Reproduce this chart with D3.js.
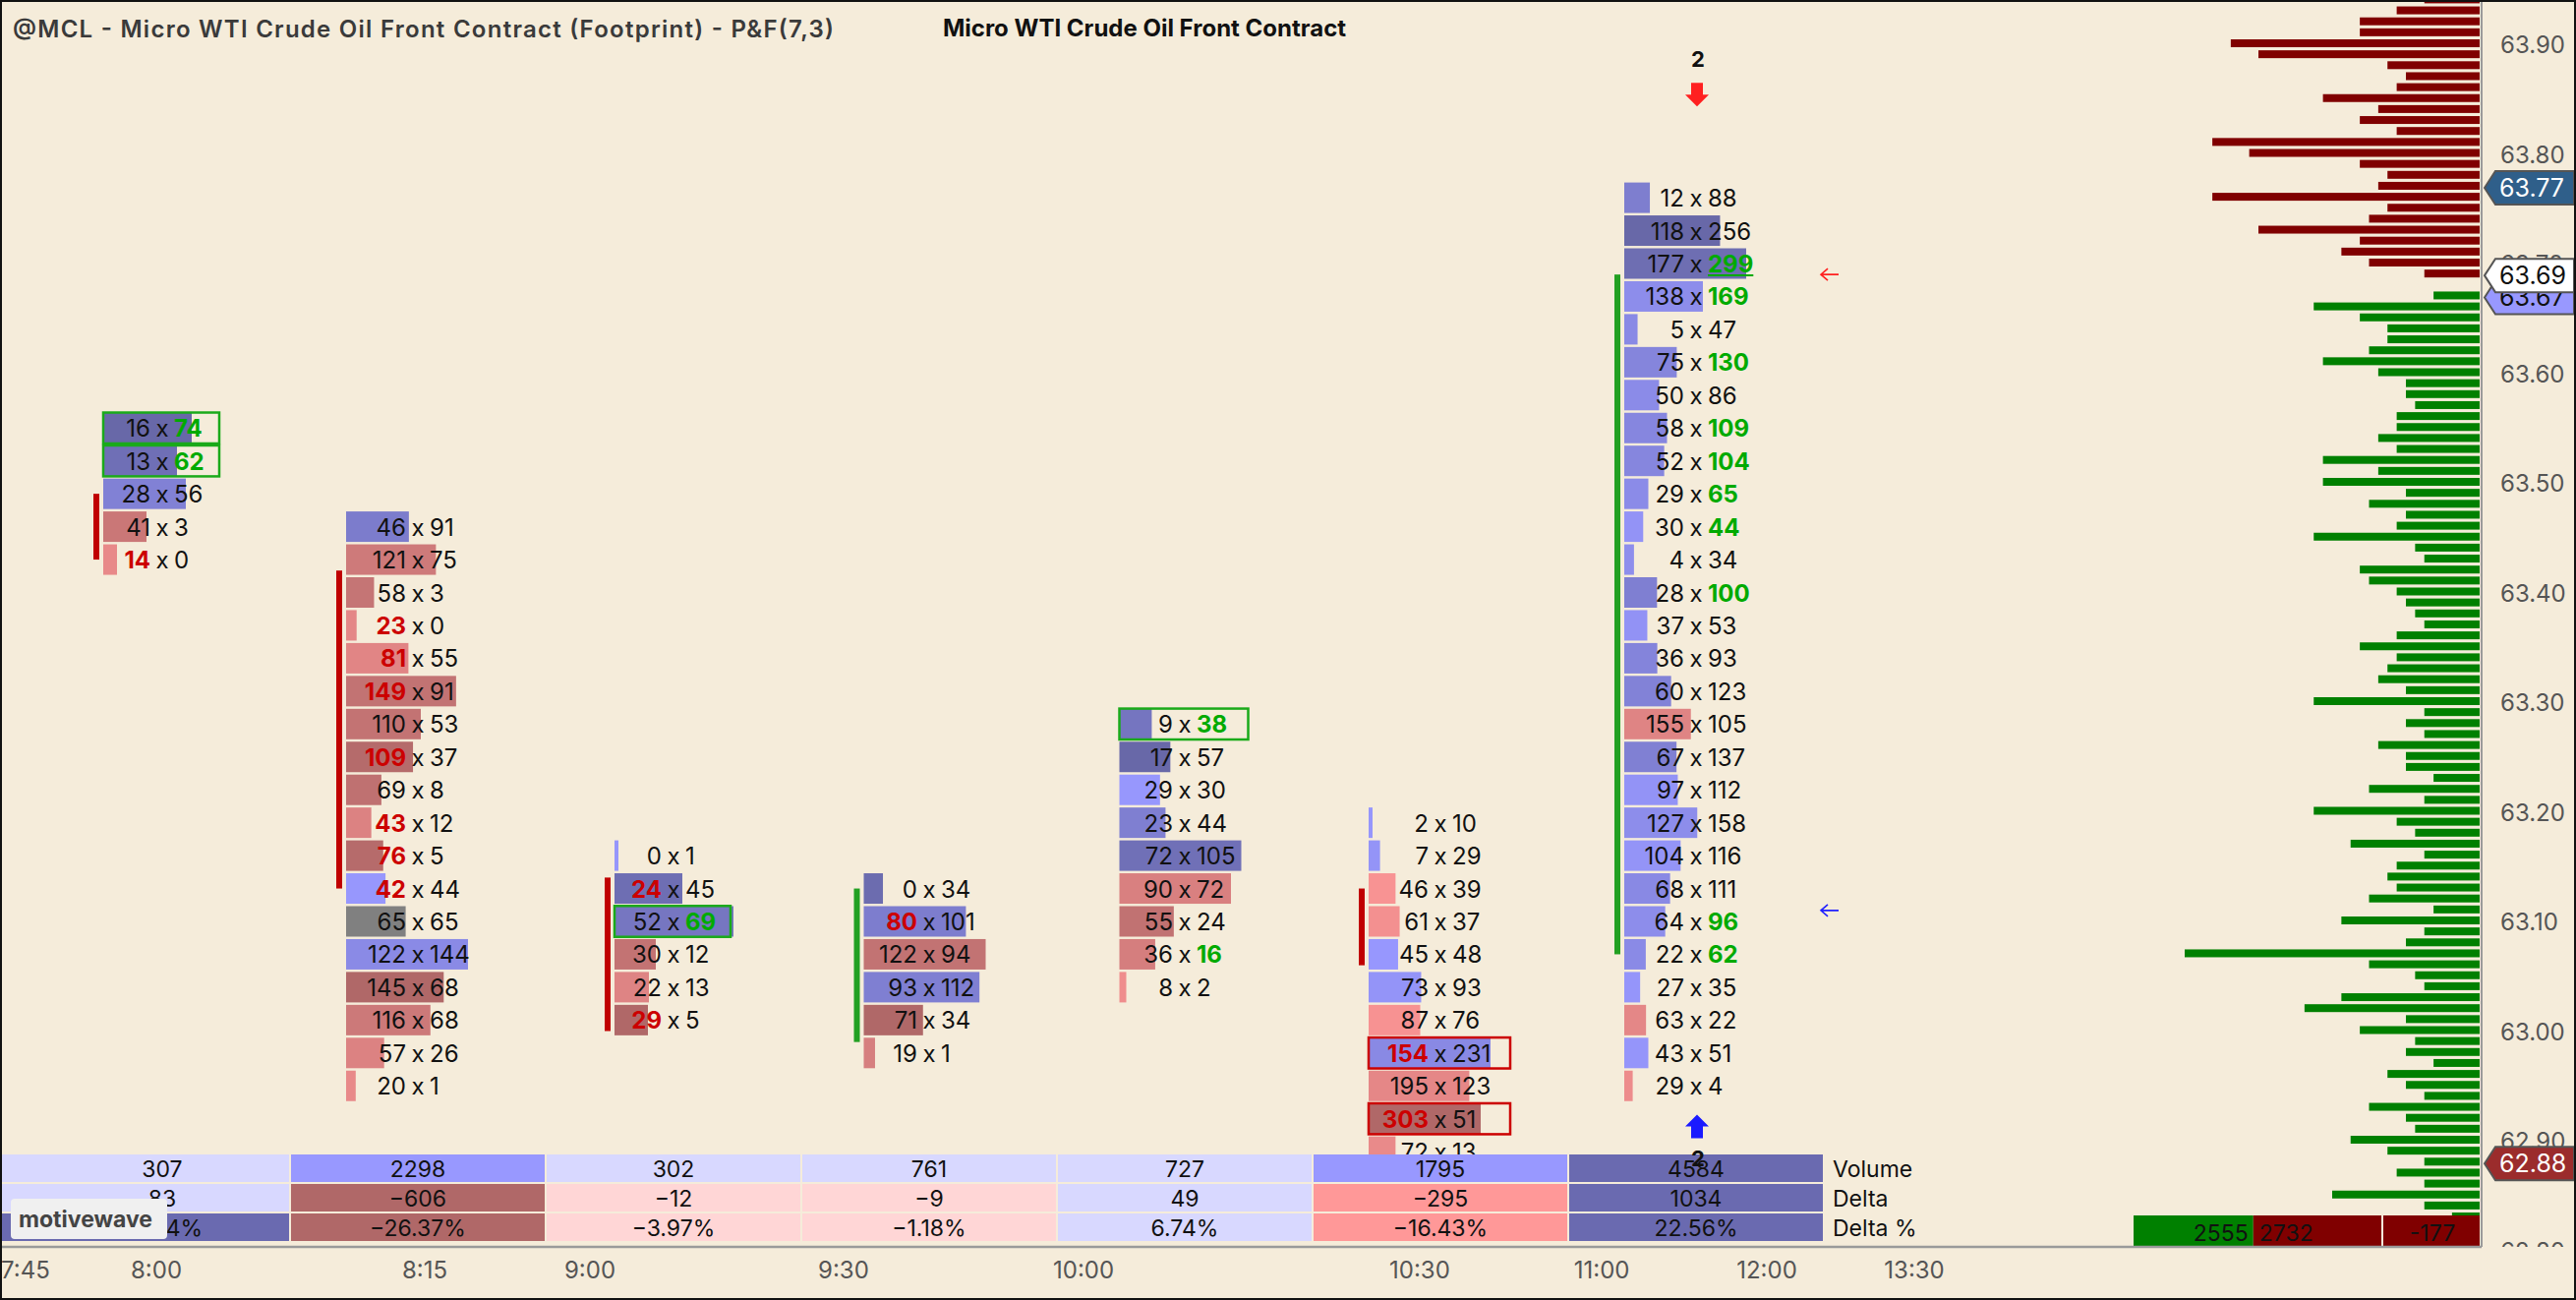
<!DOCTYPE html>
<html lang="en">
<head>
<meta charset="UTF-8">
<title>Micro WTI Crude Oil Front Contract - Footprint</title>
<style>
  html, body { margin: 0; padding: 0; background: #f5ecda; }
  svg { display: block; }
  text { font-family: Inter, "Noto Sans", sans-serif; }
</style>
</head>
<body>
<svg id="chart" width="2620" height="1322"></svg>
<script src="https://d3js.org/d3.v7.min.js"></script>
<script>

// ---------- data ----------
var barLabels = ["8:00", "8:15", "9:00", "9:30", "10:00", "10:30", "11:00"];
var barTopPrice = [63.55, 63.46, 63.16, 63.13, 63.28, 63.19, 63.76];
var boxSize = 0.03;

// [bid, ask] per price box, from top of the column down
var barCells = [
    [[16, 74], [13, 62], [28, 56], [41, 3], [14, 0]],
    [[46, 91], [121, 75], [58, 3], [23, 0], [81, 55], [149, 91], [110, 53], [109, 37], [69, 8],
     [43, 12], [76, 5], [42, 44], [65, 65], [122, 144], [145, 68], [116, 68], [57, 26], [20, 1]],
    [[0, 1], [24, 45], [52, 69], [30, 12], [22, 13], [29, 5]],
    [[0, 34], [80, 101], [122, 94], [93, 112], [71, 34], [19, 1]],
    [[9, 38], [17, 57], [29, 30], [23, 44], [72, 105], [90, 72], [55, 24], [36, 16], [8, 2]],
    [[2, 10], [7, 29], [46, 39], [61, 37], [45, 48], [73, 93], [87, 76], [154, 231], [195, 123],
     [303, 51], [72, 13]],
    [[12, 88], [118, 256], [177, 299], [138, 169], [5, 47], [75, 130], [50, 86], [58, 109], [52, 104],
     [29, 65], [30, 44], [4, 34], [28, 100], [37, 53], [36, 93], [60, 123], [155, 105], [67, 137],
     [97, 112], [127, 158], [104, 116], [68, 111], [64, 96], [22, 62], [27, 35], [63, 22], [43, 51],
     [29, 4]]
];

// highlighted boxes: [bar, row, side]
var boxedCells = [[0, 0, "buy"], [0, 1, "buy"], [2, 2, "buy"], [4, 0, "buy"], [5, 7, "sell"], [5, 9, "sell"]];
var underlinedCells = [[6, 2]];

// vertical zone lines beside columns
var zoneBar = [0, 1, 2, 3, 5, 6];
var zoneFrom = [63.49, 63.42, 63.14, 63.13, 63.13, 63.69];
var zoneTo = [63.43, 63.13, 63.00, 62.99, 63.06, 63.07];
var zoneSide = ["sell", "sell", "sell", "buy", "sell", "buy"];

var barVolume = [307, 2298, 302, 761, 727, 1795, 4584];
var barDelta = [83, -606, -12, -9, 49, -295, 1034];
var barDeltaPct = [27.04, -26.37, -3.97, -1.18, 6.74, -16.43, 22.56];

var timeTicks = ["7:45", "8:00", "8:15", "9:00", "9:30", "10:00", "10:30", "11:00", "12:00", "13:30"];
var timeTickPos = [-0.535, -0.023, 1.027, 1.673, 2.665, 3.604, 4.919, 5.631, 6.277, 6.854];

var priceTicks = [63.90, 63.80, 63.70, 63.60, 63.50, 63.40, 63.30, 63.20, 63.10, 63.00, 62.90, 62.80];

// volume profile, one value per 0.01 from profileTop downwards
var profileTop = 63.94;
var profileVol = [6, 9, 13, 13, 27, 24, 10, 8, 9, 17, 11, 13, 9, 29, 25, 13, 10, 11, 29, 10, 12, 24, 13, 15,
    12, 6, 0, 5, 18, 13, 10, 10, 12, 17, 11, 8, 8, 7, 9, 9, 11, 9, 17, 11, 17, 8, 12, 8, 9, 18, 7, 6,
    13, 12, 9, 8, 7, 6, 9, 13, 9, 10, 11, 8, 18, 6, 8, 6, 11, 8, 8, 5, 12, 6, 18, 9, 7, 14, 6, 9, 10,
    9, 12, 5, 15, 6, 8, 32, 12, 7, 6, 15, 19, 8, 13, 7, 8, 5, 10, 8, 6, 12, 8, 7, 14, 10, 6, 9, 6, 16,
    6, 3];
var profileSplit = 63.685;

var sessionBuy = 2555, sessionSell = 2732;

var tagPrices = [63.77, 63.67, 63.69, 62.88];
var tagKinds = ["last", "bid", "ref", "low"];

var signalPrices = [63.69, 63.11];
var signalSides = ["sell", "buy"];

var reversalBar = [6, 6];
var reversalPrice = [63.854, 62.913];
var reversalCount = [2, 2];
var reversalDir = ["down", "up"];

// ---------- layout ----------
var W = 2620, H = 1322;
var plotRight = 2524, plotBottom = 1268;
var tableTop = 1174, tableRowH = 28, tableGap = 2;

var svg = d3.select("#chart");
svg.append("rect").attr("width", W).attr("height", H).attr("fill", "#f5ecda");

var y = d3.scaleLinear().domain([62.90, 63.90]).range([1160, 45]);
var x = d3.scaleLinear().domain([0, 1]).range([165, 425]);
var colW = x(1) - x(0);
var rowH = y(63.00) - y(63.00 + boxSize);

var buyShade = d3.interpolateRgb("#9898ff", "#6868a8");
var sellShade = d3.interpolateRgb("#fa9494", "#b06868");

var plot = svg.append("g");

// ---------- volume profile ----------
var profW = d3.scaleLinear().domain([0, 32]).range([0, 300]);
var profile = profileVol.map(function (v, i) {
    return { price: +(profileTop - i * 0.01).toFixed(2), vol: v };
});
plot.append("g").selectAll("rect")
    .data(profile.filter(function (d) { return d.vol > 0; }))
    .enter().append("rect")
    .attr("x", function (d) { return plotRight - 2 - profW(d.vol); })
    .attr("y", function (d) { return y(d.price) - 5; })
    .attr("width", function (d) { return profW(d.vol); })
    .attr("height", 8)
    .attr("fill", function (d) { return d.price > profileSplit ? "#800000" : "#008000"; });

// ---------- footprint columns ----------
function digits(n) { return String(n).length; }

barCells.forEach(function (cells, b) {
    var cx = x(b);
    var rows = cells.map(function (c, i) {
        return { bar: b, row: i, price: +(barTopPrice[b] - i * boxSize).toFixed(2), bid: c[0], ask: c[1] };
    });
    var colMax = d3.max(rows, function (d) { return d.bid + d.ask; });
    var maxAbsDelta = d3.max(rows, function (d) { return Math.abs(d.ask - d.bid); });
    var half = d3.max(rows, function (d) { return digits(d.bid) + digits(d.ask); }) * 6.5 + 34;
    var left = cx - half;
    var wScale = d3.scaleLinear().domain([0, colMax]).range([0, Math.min(colMax, 124)]);

    rows.forEach(function (d, i) {
        var above = rows[i - 1], below = rows[i + 1];
        d.bidImb = above !== undefined && d.bid > 0 && d.bid >= 2 * above.ask;
        d.askImb = below !== undefined && d.ask > 0 && d.ask >= 2 * below.bid;
    });

    var g = plot.append("g").attr("class", "column");

    g.selectAll("rect.cell")
        .data(rows).enter().append("rect")
        .attr("class", "cell")
        .attr("x", left)
        .attr("y", function (d) { return y(d.price) - 15.5; })
        .attr("width", function (d) { return Math.max(4, wScale(d.bid + d.ask)); })
        .attr("height", 31)
        .attr("fill", function (d) {
            var delta = d.ask - d.bid;
            if (delta === 0) return "#808080";
            var t = Math.abs(delta) / maxAbsDelta;
            return delta > 0 ? buyShade(t) : sellShade(t);
        });

    var label = g.selectAll("g.lbl").data(rows).enter().append("g")
        .attr("class", "lbl")
        .attr("transform", function (d) { return "translate(0," + (y(d.price) + 9) + ")"; })
        .style("font-size", "24px");

    label.append("text")
        .attr("x", cx - 12).attr("text-anchor", "end")
        .attr("fill", function (d) { return d.bidImb ? "#cc0000" : "#111"; })
        .attr("font-weight", function (d) { return d.bidImb ? 700 : 400; })
        .text(function (d) { return d.bid; });
    label.append("text")
        .attr("x", cx).attr("text-anchor", "middle").attr("fill", "#111")
        .text("x");
    label.append("text")
        .attr("class", "ask")
        .attr("x", cx + 12).attr("text-anchor", "start")
        .attr("fill", function (d) { return d.askImb ? "#00aa00" : "#111"; })
        .attr("font-weight", function (d) { return d.askImb ? 700 : 400; })
        .text(function (d) { return d.ask; });

    // highlight boxes
    boxedCells.filter(function (bx) { return bx[0] === b; }).forEach(function (bx) {
        var d = rows[bx[1]];
        g.append("rect")
            .attr("x", left).attr("y", y(d.price) - rowH / 2 + 1)
            .attr("width", half * 2 - 2).attr("height", rowH - 2)
            .attr("fill", "none")
            .attr("stroke", bx[2] === "buy" ? "#1aaa1a" : "#cc0000")
            .attr("stroke-width", 2.5);
    });

    underlinedCells.filter(function (u) { return u[0] === b; }).forEach(function (u) {
        var d = rows[u[1]];
        var node = label.filter(function (r) { return r.row === u[1]; }).select("text.ask").node();
        var len = node.getComputedTextLength();
        g.append("line")
            .attr("x1", cx + 12).attr("x2", cx + 12 + len)
            .attr("y1", y(d.price) + 12).attr("y2", y(d.price) + 12)
            .attr("stroke", "#00aa00").attr("stroke-width", 2);
    });

    // zone lines
    zoneBar.forEach(function (zb, k) {
        if (zb !== b) return;
        g.append("rect")
            .attr("x", left - 10).attr("width", 6)
            .attr("y", y(zoneFrom[k]))
            .attr("height", y(zoneTo[k]) - y(zoneFrom[k]))
            .attr("fill", zoneSide[k] === "buy" ? "#22a022" : "#c00000");
    });
});

// ---------- reversal markers ----------
reversalBar.forEach(function (b, k) {
    var cx = x(b) + 1, cy = y(reversalPrice[k]);
    var g = plot.append("g");
    if (reversalDir[k] === "down") {
        g.append("path")
            .attr("d", "M" + (cx - 6) + "," + (cy - 12) + "H" + (cx + 6) + "V" + (cy) + "H" + (cx + 12) +
                "L" + cx + "," + (cy + 12) + "L" + (cx - 12) + "," + cy + "H" + (cx - 6) + "Z")
            .attr("fill", "#ff2020");
    } else {
        g.append("path")
            .attr("d", "M" + (cx - 6) + "," + (cy + 12) + "H" + (cx + 6) + "V" + (cy) + "H" + (cx + 12) +
                "L" + cx + "," + (cy - 12) + "L" + (cx - 12) + "," + cy + "H" + (cx - 6) + "Z")
            .attr("fill", "#1a1aff");
    }
});

// ---------- signal arrows ----------
signalPrices.forEach(function (p, k) {
    var yy = y(p), x0 = 1852, x1 = 1870;
    plot.append("path")
        .attr("d", "M" + x1 + "," + yy + "H" + x0 + "M" + (x0 + 7) + "," + (yy - 6) + "L" + x0 + "," + yy +
            "L" + (x0 + 7) + "," + (yy + 6))
        .attr("fill", "none")
        .attr("stroke", signalSides[k] === "sell" ? "#ff2020" : "#2020ff")
        .attr("stroke-width", 1.6);
});

// ---------- bottom table ----------
var tableRows = [
    { label: "Volume", values: barVolume, fmt: d3.format("d"),
      level: d3.scaleThreshold().domain([1000, 3000]).range([0, 1, 2]) },
    { label: "Delta", values: barDelta, fmt: d3.format("d"),
      level: d3.scaleThreshold().domain([100, 500]).range([0, 1, 2]) },
    { label: "Delta %", values: barDeltaPct, fmt: function (v) { return d3.format(".2f")(v) + "%"; },
      level: d3.scaleThreshold().domain([10, 20]).range([0, 1, 2]) }
];
var buyLevels = ["#d8d8ff", "#9898ff", "#6a6ab0"];
var sellLevels = ["#ffd6d6", "#ff9898", "#b06868"];

var table = svg.append("g");
tableRows.forEach(function (r, ri) {
    var ty = tableTop + ri * (tableRowH + tableGap);
    var cellsG = table.selectAll("g.r" + ri).data(r.values).enter().append("g");
    cellsG.append("rect")
        .attr("x", function (v, b) { return b === 0 ? 0 : x(b) - colW / 2 + 1; })
        .attr("width", function (v, b) { return b === 0 ? x(b) + colW / 2 - 1 : colW - 2; })
        .attr("y", ty).attr("height", tableRowH)
        .attr("fill", function (v) {
            var lv = r.level(Math.abs(v));
            return v >= 0 ? buyLevels[lv] : sellLevels[lv];
        });
    cellsG.append("text")
        .attr("x", function (v, b) { return x(b); })
        .attr("y", ty + tableRowH / 2 + 9)
        .attr("text-anchor", "middle")
        .style("font-size", "23px").attr("fill", "#111")
        .text(function (v) { return r.fmt(v); });
    table.append("text")
        .attr("x", 1864).attr("y", ty + tableRowH / 2 + 9)
        .style("font-size", "23px").attr("fill", "#111")
        .text(r.label);
});

// reversal counts drawn over the table
reversalBar.forEach(function (b, k) {
    var cy = y(reversalPrice[k]);
    svg.append("text")
        .attr("x", x(b) + 2)
        .attr("y", reversalDir[k] === "down" ? cy - 28 : cy + 40)
        .attr("text-anchor", "middle")
        .style("font-size", "22px").attr("font-weight", 700).attr("fill", "#111")
        .text(reversalCount[k]);
});

// watermark badge
svg.append("rect").attr("x", 11).attr("y", 1219).attr("width", 159).attr("height", 41).attr("rx", 4)
    .attr("fill", "#f0f0f0");
svg.append("text").attr("x", 19).attr("y", 1248)
    .style("font-size", "23px").attr("font-weight", 700).attr("fill", "#444")
    .text("motivewave");

// ---------- session summary ----------
var sumW = d3.scaleLinear().domain([0, sessionBuy + sessionSell]).range([0, 252]);
var sumX = 2422 - sumW(sessionBuy + sessionSell), sumY = 1236, sumH = 31;
svg.append("rect").attr("x", sumX).attr("y", sumY).attr("width", sumW(sessionBuy)).attr("height", sumH)
    .attr("fill", "#008000");
svg.append("rect").attr("x", sumX + sumW(sessionBuy)).attr("y", sumY).attr("width", sumW(sessionSell))
    .attr("height", sumH).attr("fill", "#800000");
svg.append("rect").attr("x", 2424).attr("y", sumY).attr("width", plotRight - 2 - 2424).attr("height", sumH)
    .attr("fill", "#800000");
svg.append("text").attr("x", sumX + sumW(sessionBuy) - 5).attr("y", sumY + 26).attr("text-anchor", "end")
    .style("font-size", "23px").attr("fill", "#111").text(sessionBuy);
svg.append("text").attr("x", sumX + sumW(sessionBuy) + 6).attr("y", sumY + 26)
    .style("font-size", "23px").attr("fill", "#111").text(sessionSell);
svg.append("text").attr("x", (2424 + plotRight) / 2).attr("y", sumY + 26).attr("text-anchor", "middle")
    .style("font-size", "23px").attr("fill", "#111").text(sessionBuy - sessionSell);

// ---------- axes ----------
svg.append("line").attr("x1", 0).attr("x2", plotRight).attr("y1", plotBottom).attr("y2", plotBottom)
    .attr("stroke", "#9a9a9a").attr("stroke-width", 2.5);
svg.append("line").attr("x1", plotRight).attr("x2", plotRight).attr("y1", 0).attr("y2", plotBottom)
    .attr("stroke", "#9a9a9a").attr("stroke-width", 2);

var timeX = d3.scaleLinear().domain([0, 1]).range([x(0), x(1)]);
svg.append("g").selectAll("text").data(timeTicks).enter().append("text")
    .attr("x", function (t, i) { return timeX(timeTickPos[i]); })
    .attr("y", 1300)
    .attr("text-anchor", "middle")
    .style("font-size", "24px").attr("fill", "#555")
    .text(function (t) { return t; });

svg.append("clipPath").attr("id", "axisClip")
    .append("rect").attr("x", plotRight).attr("y", 0).attr("width", W - plotRight).attr("height", plotBottom);
svg.append("g").attr("clip-path", "url(#axisClip)")
    .selectAll("text").data(priceTicks).enter().append("text")
    .attr("x", 2543).attr("y", function (p) { return y(p) + 9; })
    .style("font-size", "24px").attr("fill", "#555")
    .text(function (p) { return d3.format(".2f")(p); });

var tagFill = { last: "#2f5f8a", bid: "#9898ff", ref: "#ffffff", low: "#9b2c2c" };
var tagText = { last: "#ffffff", bid: "#111", ref: "#111", low: "#ffffff" };
tagPrices.forEach(function (p, k) {
    var cy = y(p) + 1, kind = tagKinds[k];
    svg.append("path")
        .attr("d", "M2527," + cy + "L2538," + (cy - 17) + "H2618V" + (cy + 17) + "H2538Z")
        .attr("fill", tagFill[kind]).attr("stroke", "#555").attr("stroke-width", 2);
    svg.append("text").attr("x", 2542).attr("y", cy + 9)
        .style("font-size", "25px").attr("fill", tagText[kind])
        .text(d3.format(".2f")(p));
});

// ---------- titles ----------
svg.append("text").attr("x", 13).attr("y", 38)
    .style("font-size", "24px").attr("font-weight", 600).attr("fill", "#3a3a3a")
    .attr("textLength", 835).attr("lengthAdjust", "spacing")
    .text("@MCL - Micro WTI Crude Oil Front Contract (Footprint) - P&F(7,3)");
svg.append("text").attr("x", 1164).attr("y", 37).attr("text-anchor", "middle")
    .style("font-size", "24px").attr("font-weight", 700).attr("fill", "#111")
    .text("Micro WTI Crude Oil Front Contract");

// frame
svg.append("rect").attr("x", 1).attr("y", 1).attr("width", W - 2).attr("height", H - 2)
    .attr("fill", "none").attr("stroke", "#111").attr("stroke-width", 2);

</script>
</body>
</html>
